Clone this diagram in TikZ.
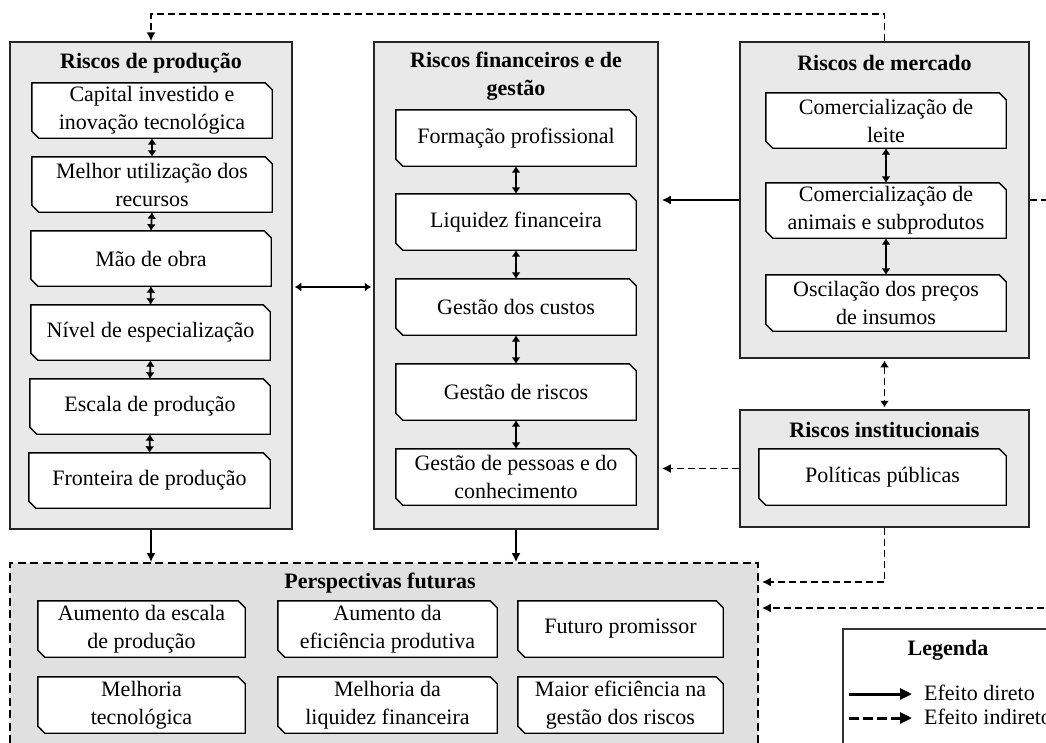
\documentclass[tikz,border=0pt]{standalone}
\usepackage{fontspec}
\setmainfont{Liberation Serif}
\usetikzlibrary{arrows.meta,calc}
\pgfdeclarelayer{bbg}
\pgfdeclarelayer{bg}
\pgfsetlayers{bbg,bg,main}
\definecolor{panelgray}{RGB}{234,233,234}
\definecolor{perspgray}{RGB}{224,224,224}
\newcommand\bodyfont{\fontsize{22}{28}\selectfont}
\tikzset{
  panel/.style={draw=black!85, line width=1.5pt, fill=panelgray, inner sep=0pt},
  ibox/.style={inner sep=0pt, align=center},
  cb/.style={draw=black, line width=1.4pt, fill=white},
  ttl/.style={font=\bodyfont\bfseries, align=center, inner sep=0pt},
  arr/.style={line width=1.7pt, -{Latex[length=9pt,width=9pt]}},
  darr/.style={line width=1.7pt, {Latex[length=6.5pt,width=9pt]}-{Latex[length=6.5pt,width=9pt]}},
  dsh/.style={dash pattern=on 7pt off 4pt},
}
\newcommand\cbx[6]{%
  \node[ibox, minimum width={(#4-#2)*1pt}, minimum height={(#5-#3)*1pt}] (#1) at ({(#2+#4)/2},{(#3+#5)/2}) {#6};
  \begin{pgfonlayer}{bg}
    \draw[cb] (#1.north west) -- ([xshift=-7pt]#1.north east) -- ([yshift=-7pt]#1.north east)
      -- (#1.south east) -- ([xshift=7pt]#1.south west) -- ([yshift=7pt]#1.south west) -- cycle;
  \end{pgfonlayer}}
\newcommand\pnl[6]{%
  \begin{pgfonlayer}{bbg}
    \node[#6, minimum width={(#4-#2)*1pt}, minimum height={(#5-#3)*1pt}] (#1) at ({(#2+#4)/2},{(#3+#5)/2}) {};
  \end{pgfonlayer}}
\begin{document}
\begin{tikzpicture}[x=1pt,y=-1pt,font=\bodyfont]
\useasboundingbox (0,0) rectangle (1046,742);
\begin{pgfonlayer}{bbg}
\fill[white] (0,0) rectangle (1046,742);
\end{pgfonlayer}

% panels
\pnl{prod}{10}{42}{292}{529}{panel}
\pnl{fin}{374}{42}{658}{529}{panel}
\pnl{merc}{740}{42}{1029}{358}{panel}
\pnl{inst}{740}{410}{1029}{527}{panel}
\pnl{persp}{10}{563}{758}{770}{panel,draw=black,fill=perspgray,line width=1.8pt,dash pattern=on 8pt off 4.5pt}
\pnl{leg}{843}{629}{1100}{800}{panel,fill=white,draw=black!80,line width=1.4pt}

% titles
\node[ttl] (tprod) at (151,63) {Riscos de produção};
\node[ttl] (tfin) at (516,76) {Riscos financeiros  e de\\gestão};
\node[ttl] (tmerc) at (884.5,63) {Riscos de mercado};
\node[ttl] (tinst) at (884.5,430) {Riscos institucionais};
\node[ttl] (tpersp) at (380,583) {Perspectivas  futuras};
\node[ttl] (tleg) at (948,650) {Legenda};

% production boxes
\cbx{p1}{32}{83}{272}{138}{Capital investido e\\inovação tecnológica}
\cbx{p2}{32}{157}{272}{212}{Melhor utilização dos\\recursos}
\cbx{p3}{31}{231}{271}{286}{Mão de obra}
\cbx{p4}{31}{305}{270}{360}{Nível de especialização}
\cbx{p5}{30}{379}{270}{434}{Escala de produção}
\cbx{p6}{29}{453}{270}{508}{Fronteira de produção}

% financial boxes
\cbx{f1}{396}{110}{636}{166}{Formação  profissional}
\cbx{f2}{396}{194}{636}{250}{Liquidez financeira}
\cbx{f3}{396}{279}{636}{335}{Gestão  dos custos}
\cbx{f4}{396}{364}{636}{420}{Gestão  de riscos}
\cbx{f5}{396}{449}{636}{505}{Gestão  de pessoas  e do\\conhecimento}

% market boxes
\cbx{m1}{766}{93}{1006}{148}{Comercialização de\\leite}
\cbx{m2}{766}{183}{1006}{238}{Comercialização de\\animais e subprodutos}
\cbx{m3}{766}{275}{1006}{331}{Oscilação dos preços\\de insumos}

% institutional
\cbx{i1}{759}{449}{1006}{505}{Políticas públicas}

% perspectives
\cbx{q1}{38}{601}{245}{657}{Aumento  da escala\\de produção}
\cbx{q2}{278}{601}{497}{657}{Aumento  da\\eficiência produtiva}
\cbx{q3}{518}{601}{723}{657}{Futuro promissor}
\cbx{q4}{38}{677}{245}{733}{Melhoria\\tecnológica}
\cbx{q5}{278}{677}{497}{733}{Melhoria da\\liquidez financeira}
\cbx{q6}{518}{677}{723}{733}{Maior eficiência na\\gestão dos riscos}

% inner arrows
\foreach \a/\b in {p1/p2,p2/p3,p3/p4,p4/p5,p5/p6,f1/f2,f2/f3,f3/f4,f4/f5,m1/m2,m2/m3}
  \draw[darr] (\a.south) -- (\b.north);

% coordinates
\coordinate (topy) at (0,14);
\coordinate (y287) at (0,287);
\coordinate (y582) at (0,582);
\coordinate (offr) at (1075,608);

% connectors
\draw[arr,dsh] (merc.north) -- (merc.north |- topy) -| (prod.north);
\draw[arr,shorten >=3pt] (merc.west) -- (fin.east |- merc.west);
\draw[darr,shorten <=2pt,shorten >=2pt] (prod.east |- y287) -- (fin.west |- y287);
\draw[arr,dsh,shorten >=3pt] (inst.west) -- (fin.east |- inst.west);
\draw[darr,dsh,shorten <=2pt,shorten >=2pt] (merc.south) -- (inst.north);
\draw[arr,dsh,shorten >=3pt] (inst.south) |- (persp.east |- y582);
\draw[arr,dsh,shorten >=3pt] (merc.east) -| (offr) -- (persp.east |- offr);
\draw[arr] (prod.south) -- (prod.south |- persp.north);
\draw[arr] (fin.south) -- (fin.south |- persp.north);

% legend
\coordinate (l1s) at (849,694);
\coordinate (l1e) at (912,694);
\coordinate (l2s) at (849,718);
\coordinate (l2e) at (912,718);
\draw[line width=3pt,-{Triangle[length=12pt,width=11pt]}] (l1s) -- (l1e);
\draw[line width=3pt,dash pattern=on 10pt off 4pt,-{Triangle[length=12pt,width=11pt]}] (l2s) -- (l2e);
\node[anchor=west,inner sep=0pt] (e1) at (924,693) {Efeito direto};
\node[anchor=west,inner sep=0pt] (e2) at (924,717) {Efeito indireto};
\end{tikzpicture}
\end{document}
